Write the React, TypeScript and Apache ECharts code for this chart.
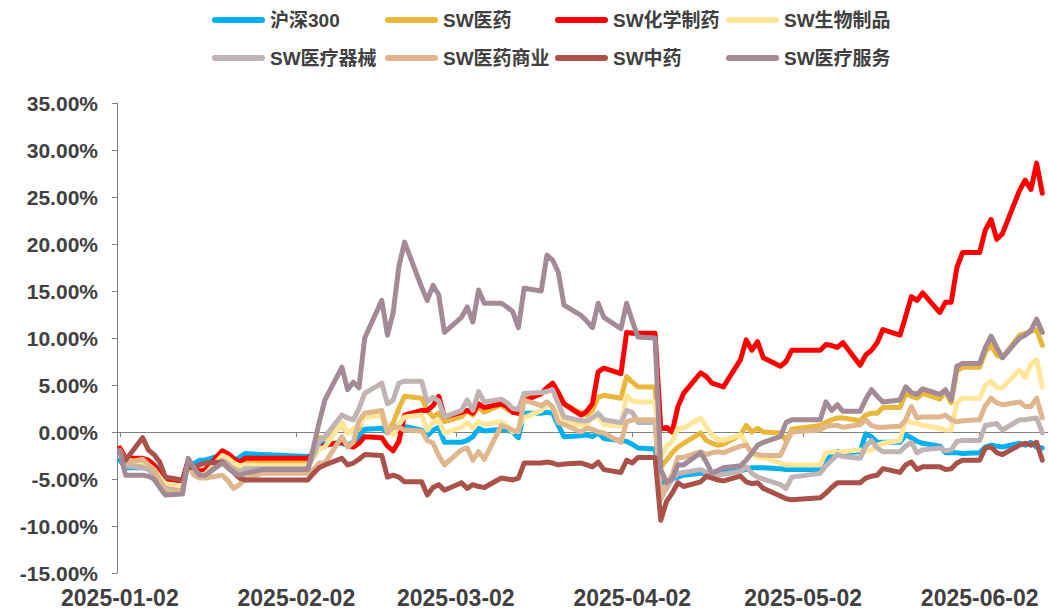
import React, { useEffect, useRef } from "react";
import * as echarts from "echarts";

const dates = [
  "2025-01-02","2025-01-03","2025-01-06","2025-01-07","2025-01-08","2025-01-09","2025-01-10","2025-01-13","2025-01-14","2025-01-15",
  "2025-01-16","2025-01-17","2025-01-20","2025-01-21","2025-01-22","2025-01-23","2025-01-24","2025-01-27","2025-02-04","2025-02-05",
  "2025-02-06","2025-02-07","2025-02-10","2025-02-11","2025-02-12","2025-02-13","2025-02-14","2025-02-17","2025-02-18","2025-02-19",
  "2025-02-20","2025-02-21","2025-02-24","2025-02-25","2025-02-26","2025-02-27","2025-02-28","2025-03-03","2025-03-04","2025-03-05",
  "2025-03-06","2025-03-07","2025-03-10","2025-03-11","2025-03-12","2025-03-13","2025-03-14","2025-03-17","2025-03-18","2025-03-19",
  "2025-03-20","2025-03-21","2025-03-24","2025-03-25","2025-03-26","2025-03-27","2025-03-28","2025-03-31","2025-04-01","2025-04-02",
  "2025-04-03","2025-04-06","2025-04-07","2025-04-08","2025-04-09","2025-04-10","2025-04-11","2025-04-14","2025-04-15","2025-04-16",
  "2025-04-17","2025-04-18","2025-04-21","2025-04-22","2025-04-23","2025-04-24","2025-04-25","2025-04-28","2025-04-29","2025-04-30",
  "2025-05-05","2025-05-06","2025-05-07","2025-05-08","2025-05-09","2025-05-12","2025-05-13","2025-05-14","2025-05-15","2025-05-16",
  "2025-05-19","2025-05-20","2025-05-21","2025-05-22","2025-05-23","2025-05-26","2025-05-27","2025-05-28","2025-05-29","2025-05-30",
  "2025-06-02","2025-06-03","2025-06-04","2025-06-05","2025-06-06","2025-06-09","2025-06-10","2025-06-11","2025-06-12","2025-06-13"
];

const hs300 = [
  -3.0,-3.8,-3.8,-3.4,-3.5,-4.0,-5.0,-5.2,-3.2,-3.4,-3.0,-3.0,-2.4,-2.4,-3.2,-2.7,-2.3,-2.4,-2.6,
  -2.4,-1.5,-1.2,-1.2,-1.4,-1.1,-0.5,0.3,0.4,-0.1,0.2,0.8,0.6,0.2,-0.4,0.2,0.5,-1.1,
  -1.1,-0.9,-0.5,0.4,0.1,0.3,0.2,0.0,-0.6,2.0,2.0,2.1,2.0,0.7,-0.5,-0.4,-0.3,-0.5,-0.1,-0.7,-0.9,-1.0,-1.3,-1.7,-1.8,
  -5.5,-5.3,-5.0,-4.8,-4.6,-4.4,-4.4,-4.3,-4.2,-4.2,-4.1,-4.0,-3.8,-3.8,-3.8,-3.9,-4.0,-4.0,-4.0,
  -3.0,-2.5,-2.1,-2.2,-2.1,-0.2,-0.5,-1.1,-1.1,-1.1,-0.3,-0.6,-1.0,-1.2,-1.5,-2.2,-2.2,-2.2,-2.3,-2.2,
  -1.6,-1.4,-1.5,-1.6,-1.2,-1.4,-1.1,-1.6,-1.7
];

const swPharma = [
  -2.0,-3.4,-3.6,-3.8,-4.2,-5.0,-5.8,-6.0,-3.2,-4.2,-4.6,-4.5,-2.8,-3.0,-3.5,-3.7,-3.3,-3.3,-3.3,
  -2.0,-0.6,-0.6,0.7,-0.1,0.2,0.3,2.0,1.7,0.0,1.0,2.5,3.8,3.6,2.3,1.6,2.0,1.1,
  1.6,2.3,1.8,2.7,2.1,2.9,2.4,2.1,2.0,3.6,4.0,4.7,5.0,4.0,3.0,2.0,1.8,2.3,3.7,3.9,3.6,5.9,5.3,4.8,4.8,
  -3.7,-3.0,-2.2,-1.6,-1.2,-0.1,-0.9,-1.2,-1.4,-1.3,-0.3,0.7,0.0,0.4,0.0,-0.1,-0.9,0.3,0.7,
  1.0,1.3,1.5,1.5,1.2,1.8,2.0,2.0,2.6,2.6,4.1,3.8,3.6,4.1,3.5,4.3,3.1,6.5,6.9,6.9,
  8.5,9.3,8.2,7.9,10.3,10.5,10.7,10.9,9.2
];

const swChemPharma = [
  -1.7,-2.8,-2.8,-3.0,-3.5,-4.5,-5.0,-5.2,-3.0,-3.8,-4.2,-4.0,-2.0,-2.3,-2.8,-3.2,-2.8,-2.8,-2.8,
  -2.3,-1.7,-1.4,-1.1,-1.4,-1.6,-1.2,-0.5,-0.6,-1.5,-2.0,-1.0,1.8,2.3,2.3,2.8,3.8,1.6,
  2.1,2.3,2.0,3.0,2.6,3.0,2.7,2.1,2.0,3.3,4.1,4.7,5.2,4.2,3.0,1.8,2.2,3.0,6.4,6.8,6.2,10.6,10.5,10.5,10.5,
  0.3,0.5,0.0,2.7,4.1,6.3,5.9,5.2,5.0,4.8,7.7,9.8,8.7,9.6,7.9,7.0,7.5,8.7,8.7,
  9.3,9.2,9.0,9.5,7.1,8.2,8.7,9.5,10.9,10.3,12.3,14.4,14.0,14.8,12.7,13.8,13.8,17.5,19.1,19.1,
  21.5,22.6,20.5,21.1,25.7,26.8,25.8,28.6,25.4
];

const swBio = [
  -2.0,-3.0,-3.2,-3.5,-4.0,-4.8,-5.5,-5.8,-3.3,-4.0,-4.6,-4.5,-2.5,-2.8,-3.3,-3.6,-3.5,-3.6,-3.6,
  -2.8,-1.8,-1.6,1.0,-0.1,0.3,0.7,1.5,1.8,0.3,-0.3,0.8,1.6,1.8,0.2,1.0,1.2,-0.1,
  0.5,1.0,0.4,1.1,0.8,1.1,0.6,0.0,0.4,1.5,2.3,2.9,2.5,2.0,1.1,0.7,0.7,1.6,1.6,0.8,0.6,3.9,3.3,3.2,3.2,
  -2.7,-1.5,-1.0,0.4,0.4,1.5,0.5,-0.3,-0.8,-0.9,-0.3,-1.2,-2.4,-2.7,-2.7,-3.3,-3.5,-3.5,-3.5,
  -2.2,-2.1,-2.2,-2.1,-1.9,-2.1,-1.9,-1.4,-1.2,-0.9,1.3,1.0,0.9,0.7,0.4,0.2,0.2,3.1,3.6,3.6,
  5.0,5.4,4.7,4.7,6.6,5.8,7.2,7.7,4.8
];

const swDevice = [
  -2.0,-3.6,-3.8,-4.0,-4.5,-5.2,-6.0,-6.3,-3.3,-4.3,-4.8,-4.7,-3.0,-3.4,-4.0,-4.3,-3.9,-3.9,-3.9,
  -2.5,-1.0,-0.5,1.8,1.5,1.3,2.5,4.1,5.2,3.0,3.4,5.2,5.4,5.4,3.2,3.7,3.3,1.6,
  2.3,3.4,2.3,4.3,3.2,3.5,3.1,2.5,2.4,4.1,4.2,4.3,4.5,3.0,1.6,1.2,1.2,1.5,2.0,1.3,1.0,2.3,2.1,1.0,1.0,
  -7.0,-6.0,-5.0,-4.4,-4.3,-4.0,-4.3,-4.6,-4.6,-4.5,-4.2,-3.7,-4.4,-4.8,-5.0,-5.6,-6.0,-4.8,-4.4,
  -3.6,-3.0,-2.4,-2.6,-2.8,-1.5,-0.9,-1.7,-2.1,-2.1,-1.5,-1.1,-2.2,-1.9,-1.7,-2.0,-1.9,-1.0,-0.9,-0.9,
  0.7,0.8,0.9,0.2,1.3,1.3,1.4,1.5,-0.1
];

const swCommerce = [
  -2.1,-3.3,-2.9,-3.5,-4.0,-5.2,-6.2,-6.4,-3.3,-4.6,-4.9,-4.9,-4.6,-5.2,-6.0,-5.6,-5.0,-4.4,-4.4,
  -4.0,-3.3,-3.3,-0.5,-1.6,-1.1,1.2,2.0,2.3,-0.1,0.5,0.5,0.2,0.1,-0.9,-1.2,-2.5,-3.5,
  -1.9,-1.7,-3.0,-2.1,-2.9,0.7,0.5,0.2,0.0,3.4,2.8,3.2,2.7,1.0,0.8,0.0,0.4,0.3,0.0,-0.1,-1.1,1.1,1.3,1.3,1.3,
  -7.2,-5.5,-4.6,-2.7,-2.7,-2.1,-2.4,-2.2,-2.1,-2.2,-1.5,-1.4,-2.2,-2.4,-2.5,-2.5,-1.2,0.0,0.2,
  0.6,0.7,0.7,0.5,0.8,1.3,0.7,0.5,0.5,0.6,1.3,2.7,1.5,1.6,1.6,1.8,1.3,1.1,1.2,1.3,
  2.8,3.6,3.1,2.9,3.2,2.7,2.7,3.6,1.5
];

const swTCM = [
  -2.1,-3.0,-0.6,-1.9,-2.4,-3.2,-4.8,-5.1,-3.7,-3.8,-3.5,-3.3,-3.2,-3.8,-4.3,-4.9,-5.1,-5.1,-5.1,
  -4.4,-3.8,-3.5,-2.8,-3.5,-3.3,-2.9,-2.4,-2.5,-4.8,-4.6,-4.8,-5.3,-5.3,-6.7,-5.9,-5.6,-6.2,
  -5.4,-6.0,-5.6,-5.8,-5.9,-4.9,-5.0,-5.1,-4.9,-3.3,-3.3,-3.2,-3.3,-3.5,-3.4,-3.3,-3.5,-3.7,-3.2,-4.0,-4.3,-3.0,-3.3,-2.7,-2.7,
  -9.4,-7.4,-6.5,-5.4,-5.8,-5.3,-4.7,-4.9,-5.1,-5.2,-4.7,-5.3,-5.5,-5.4,-6.0,-6.8,-7.1,-7.2,-7.0,
  -6.5,-5.9,-5.4,-5.4,-5.4,-4.9,-4.7,-4.6,-3.9,-4.3,-3.5,-3.2,-4.0,-3.7,-3.7,-4.0,-3.9,-3.3,-3.0,-3.0,
  -1.7,-1.6,-2.2,-2.4,-1.4,-1.2,-1.4,-1.1,-3.0
];

const swService = [
  -2.0,-4.6,-4.6,-4.7,-5.0,-5.9,-6.7,-6.6,-2.8,-3.8,-4.6,-4.6,-3.3,-3.8,-4.3,-4.6,-4.4,-4.0,-4.0,
  -1.6,1.0,3.4,6.9,4.5,5.3,4.7,10.0,14.0,10.3,12.7,17.6,20.2,15.4,14.0,15.6,14.6,10.6,
  12.2,13.3,11.7,15.1,13.7,13.7,13.3,12.8,11.1,15.3,15.0,18.8,18.3,17.0,13.5,12.4,11.8,11.1,13.7,12.2,11.0,13.7,11.8,10.1,10.0,
  -4.0,-5.4,-5.0,-3.5,-3.5,-2.2,-3.2,-4.4,-4.1,-3.8,-3.6,-3.0,-2.2,-1.4,-1.1,-0.5,1.0,1.3,1.3,
  3.2,2.3,2.9,2.2,2.2,3.5,4.5,3.8,3.2,3.4,4.8,4.2,4.0,4.6,4.0,4.5,3.4,7.0,7.3,7.3,
  9.0,10.2,9.0,7.9,10.0,10.3,10.8,12.0,10.6
];

const seriesNames = ["沪深300", "SW医药", "SW化学制药", "SW生物制品", "SW医疗器械", "SW医药商业", "SW中药", "SW医疗服务"];
const seriesColors = ["#00B0F0", "#E9B73B", "#FF0000", "#FFE699", "#BFB3B3", "#DFB68D", "#A9514A", "#A28A97"];
const seriesValues = [hs300, swPharma, swChemPharma, swBio, swDevice, swCommerce, swTCM, swService];

const xTickLabels = ["2025-01-02", "2025-02-02", "2025-03-02", "2025-04-02", "2025-05-02", "2025-06-02"];
const yMin = -15;
const yMax = 35;
const yStep = 5;

const FONT = "'Liberation Sans', Arial, 'Noto Sans CJK SC', sans-serif";

function ts(s: string): number {
  const [y, m, d] = s.split("-").map(Number);
  return new Date(y, m - 1, d).getTime();
}

function fmtDate(v: number): string {
  const d = new Date(v);
  const mm = String(d.getMonth() + 1).padStart(2, "0");
  const dd = String(d.getDate()).padStart(2, "0");
  return `${d.getFullYear()}-${mm}-${dd}`;
}

export default function App() {
  const ref = useRef<HTMLDivElement>(null);

  useEffect(() => {
    if (!ref.current) return;
    const chart = echarts.init(ref.current, undefined, { renderer: "svg" });
    const xMin = ts("2025-01-02") - 12 * 3600 * 1000;
    const xMax = ts("2025-06-14");
    const tickTs = xTickLabels.map(ts);

    const colLeft = [212, 385, 555, 726];
    const rowTop = [10, 48];
    const pill = "path://M3,0L50,0A3,3,0,0,1,50,6L3,6A3,3,0,0,1,3,0Z";

    const legends = seriesNames.map((name, i) => ({
      show: true,
      left: colLeft[i % 4],
      top: rowTop[Math.floor(i / 4)],
      padding: 0,
      data: [name],
      icon: pill,
      itemWidth: 53,
      itemHeight: 6,
      itemStyle: { borderWidth: 0 },
      selectedMode: false,
      textStyle: { fontSize: 19, fontWeight: "bold", color: "#404040", fontFamily: FONT, lineHeight: 20 },
    }));

    const series = seriesNames.map((name, i) => ({
      type: "line",
      name,
      xAxisIndex: 0,
      yAxisIndex: 0,
      data: dates.map((d, j) => [ts(d), seriesValues[i][j]]),
      symbol: "none",
      showSymbol: false,
      lineStyle: { width: 5, color: seriesColors[i], cap: "round", join: "round" },
      itemStyle: { color: seriesColors[i] },
      emphasis: { disabled: true },
    }));

    chart.setOption({
      animation: false,
      backgroundColor: "#ffffff",
      legend: legends,
      grid: { left: 117, right: 0, top: 103, bottom: 37, containLabel: false },
      xAxis: [
        {
          type: "value",
          min: xMin,
          max: xMax,
          position: "bottom",
          axisLine: { show: true, onZero: true, lineStyle: { color: "#808080", width: 1 } },
          axisTick: { show: true, customValues: tickTs, length: 5, lineStyle: { color: "#808080" } },
          axisLabel: { show: false, customValues: tickTs },
          splitLine: { show: false },
        },
        {
          type: "value",
          min: xMin,
          max: xMax,
          position: "bottom",
          axisLine: { show: false, onZero: false },
          axisTick: { show: false },
          axisLabel: {
            show: true,
            customValues: tickTs,
            formatter: (v: number) => fmtDate(v),
            fontSize: 23,
            fontWeight: "bold",
            color: "#404040",
            fontFamily: FONT,
            margin: 13,
            hideOverlap: false,
          },
          splitLine: { show: false },
        },
      ],
      yAxis: {
        type: "value",
        min: yMin,
        max: yMax,
        interval: yStep,
        axisLine: { show: true, onZero: false, lineStyle: { color: "#808080", width: 1 } },
        axisTick: { show: true, length: 5, lineStyle: { color: "#808080" } },
        splitLine: { show: false },
        axisLabel: {
          formatter: (v: number) => v.toFixed(2) + "%",
          fontSize: 21,
          fontWeight: "bold",
          color: "#404040",
          fontFamily: FONT,
          margin: 19,
        },
      },
      series,
    });

    return () => chart.dispose();
  }, []);

  return (
    <div
      ref={ref}
      style={{ position: "absolute", left: 0, top: 0, width: 1048, height: 610, background: "#fff" }}
    />
  );
}
